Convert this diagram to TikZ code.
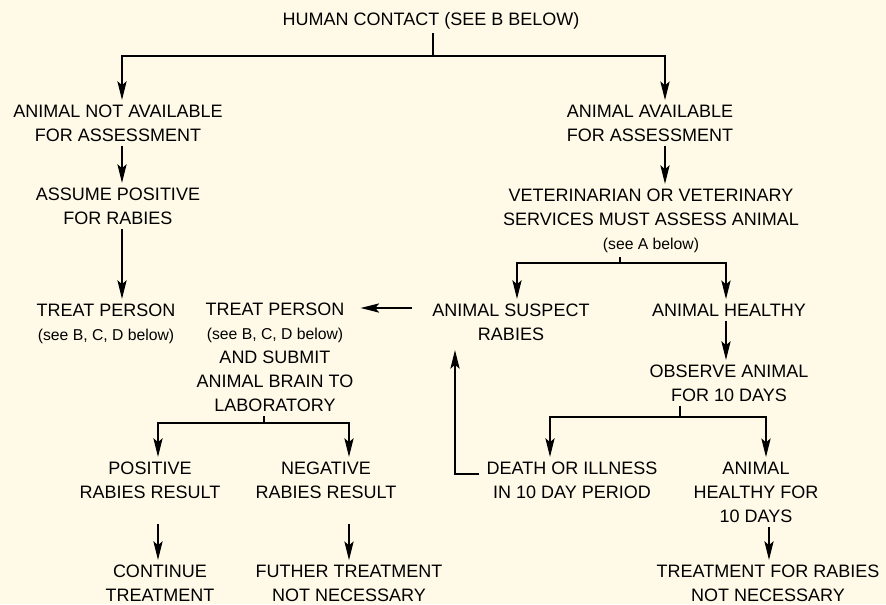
\documentclass[tikz,border=0pt]{standalone}
\usepackage{fontspec}
\setmainfont{Liberation Sans}
\usetikzlibrary{arrows.meta}
\definecolor{paper}{RGB}{255,250,232}
\newcommand{\bigsz}{\fontsize{13.5}{18}\selectfont}
\newcommand{\smallsz}{\fontsize{11.8}{18}\selectfont}

\begin{document}
\begin{tikzpicture}[x=0.75pt,y=-0.75pt,line width=0.9pt,
  box/.style={align=center,font=\bigsz,inner xsep=5pt,inner ysep=3pt,anchor=base},
  arr/.style={-{Stealth[length=14pt,width=7pt,inset=3pt]}}]
\fill [paper] (0,0) rectangle (886,604);
\useasboundingbox (0,0) rectangle (886,604);
% text (placed at the baseline of the last line)
\node [box] (contact) at (431,25) {HUMAN CONTACT (SEE B BELOW)};
\node [box] (notavail) at (118,141) {ANIMAL NOT AVAILABLE\\FOR ASSESSMENT};
\node [box] (assume) at (118,224) {ASSUME POSITIVE\\FOR RABIES};
\node [box] (treatA) at (106,340) {TREAT PERSON\\{\smallsz (see B, C, D below)}};
\node [box] (treatB) at (275,411) {TREAT PERSON\\{\smallsz (see B, C, D below)}\\AND SUBMIT\\ANIMAL BRAIN TO\\LABORATORY};
\node [box] (avail) at (650,141) {ANIMAL AVAILABLE\\FOR ASSESSMENT};
\node [box] (vet) at (651,249) {VETERINARIAN OR VETERINARY\\SERVICES MUST ASSESS ANIMAL\\{\smallsz (see A below)}};
\node [box] (suspect) at (511,340) {ANIMAL SUSPECT\\RABIES};
\node [box] (healthy) at (729,316) {ANIMAL HEALTHY};
\node [box] (observe) at (729,401) {OBSERVE ANIMAL\\FOR 10 DAYS};
\node [box] (death) at (572,498) {DEATH OR ILLNESS\\IN 10 DAY PERIOD};
\node [box] (healthyten) at (756,522) {ANIMAL\\HEALTHY FOR\\10 DAYS};
\node [box] (notreat) at (768,601) {TREATMENT FOR RABIES\\NOT NECESSARY};
\node [box] (positive) at (150,498) {POSITIVE\\RABIES RESULT};
\node [box] (negative) at (326,498) {NEGATIVE\\RABIES RESULT};
\node [box] (continue) at (160,601) {CONTINUE\\TREATMENT};
\node [box] (further) at (349,601) {FUTHER TREATMENT\\NOT NECESSARY};
% branch points
\coordinate (top) at (433,56);
\coordinate (colL) at (122,56);
\coordinate (colR) at (665,56);
\coordinate (vfork) at (620,263);
\coordinate (vL) at (517,263);
\coordinate (vR) at (726,263);
\coordinate (ofork) at (680,417);
\coordinate (oL) at (550,417);
\coordinate (oR) at (766,417);
\coordinate (lfork) at (264,423);
\coordinate (lL) at (158,423);
\coordinate (lR) at (349,423);
\coordinate (colT) at (769,0);
\coordinate (feedin) at (412,308);
\coordinate (back) at (455,474);
% connectors
\draw (contact.south -| top) -- (top);
\draw [arr] (top) -- (colL) -- (colL |- notavail.north);
\draw [arr] (top) -- (colR) -- (colR |- avail.north);
\draw [arr] (notavail.south -| colL) -- (assume.north -| colL);
\draw [arr] (assume.south -| colL) -- (treatA.north -| colL);
\draw [arr] (avail.south -| colR) -- (vet.north -| colR);
\draw (vet.south -| vfork) -- (vfork);
\draw [arr] (vfork) -- (vL) -- (vL |- suspect.north);
\draw [arr] (vfork) -- (vR) -- (vR |- healthy.north);
\draw [arr] (healthy.south -| vR) -- (observe.north -| vR);
\draw [arr] (feedin) -- (feedin -| treatB.east);
\draw (observe.south -| ofork) -- (ofork);
\draw [arr] (ofork) -- (oL) -- (oL |- death.north);
\draw [arr] (ofork) -- (oR) -- (oR |- healthyten.north);
\draw [arr,shorten >=4pt] (death.west |- back) -- (back) -- (back |- suspect.south);
\draw [arr] (healthyten.south -| colT) -- (notreat.north -| colT);
\draw (treatB.south -| lfork) -- (lfork);
\draw [arr] (lfork) -- (lL) -- (lL |- positive.north);
\draw [arr] (lfork) -- (lR) -- (lR |- negative.north);
\draw [arr,shorten <=16pt] (positive.south -| lL) -- (continue.north -| lL);
\draw [arr,shorten <=16pt] (negative.south -| lR) -- (further.north -| lR);
\end{tikzpicture}
\end{document}
